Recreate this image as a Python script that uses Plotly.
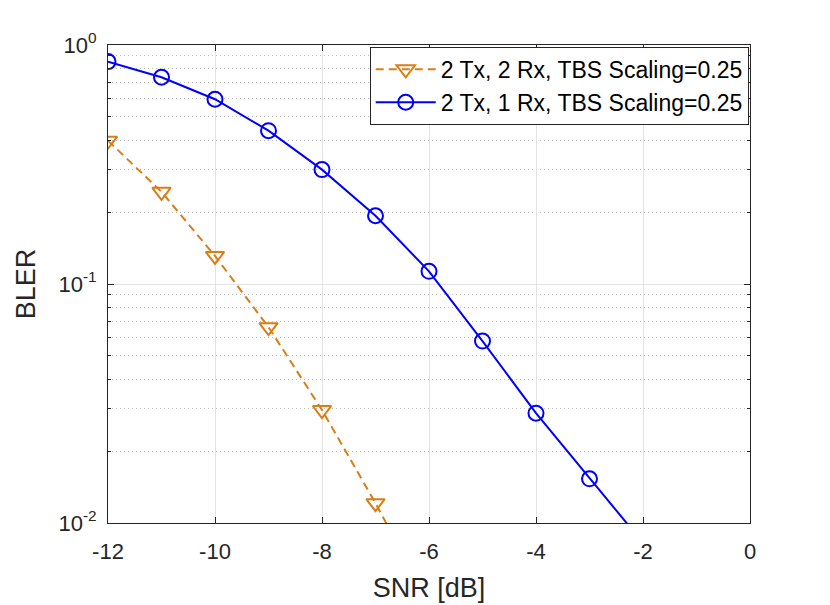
import plotly.graph_objects as go

# SNR points (dB)
snr = [-12, -11, -10, -9, -8, -7, -6, -5, -4, -3, -2]

# BLER curves
bler_2rx = [0.398, 0.243, 0.131, 0.066, 0.0297, 0.0121, 0.00465]
bler_1rx = [0.852, 0.733, 0.593, 0.438, 0.301, 0.193, 0.113, 0.0577, 0.0288, 0.0153, 0.00826]

ytick_vals = [1, 0.1, 0.01]
ytick_text = ["10<sup>0</sup>", "10<sup>-1</sup>", "10<sup>-2</sup>"]
xtick_vals = [-12, -10, -8, -6, -4, -2, 0]
xtick_text = ["-12", "-10", "-8", "-6", "-4", "-2", "0"]

font_name = "Liberation Sans, Arial, sans-serif"
text_col = "#262626"

fig = go.Figure()

fig.add_trace(go.Scatter(
    x=snr[:len(bler_2rx)], y=bler_2rx,
    name="2 Tx, 2 Rx, TBS Scaling=0.25",
    mode="lines+markers",
    line=dict(color="#D97D14", width=2, dash="8px,5px"),
    marker=dict(symbol="triangle-down-open", size=16, color="#D97D14",
                line=dict(width=2, color="#D97D14")),
))

fig.add_trace(go.Scatter(
    x=snr, y=bler_1rx,
    name="2 Tx, 1 Rx, TBS Scaling=0.25",
    mode="lines+markers",
    line=dict(color="#0000FF", width=2),
    marker=dict(symbol="circle-open", size=15, color="#0000FF",
                line=dict(width=2, color="#0000FF")),
))

# the page body adds an 8px offset, so margins are shifted by that amount
fig.update_layout(
    width=830, height=605,
    margin=dict(l=100, r=88, t=37, b=90),
    paper_bgcolor="white",
    plot_bgcolor="white",
    font=dict(family=font_name, size=22, color=text_col),
    showlegend=True,
    legend=dict(
        x=0.998, y=0.996, xanchor="right", yanchor="top",
        bgcolor="white", bordercolor="#262626", borderwidth=1,
        font=dict(size=23, color="black"),
        tracegroupgap=0, itemwidth=60,
    ),
)

fig.update_xaxes(
    range=[-12, 0],
    tickvals=xtick_vals, ticktext=xtick_text,
    ticks="inside", ticklen=6, tickcolor="#262626",
    showline=True, linecolor="#262626", linewidth=1, mirror="ticks",
    showgrid=True, gridcolor="#E3E3E3", gridwidth=1,
    zeroline=False,
    ticklabelstandoff=9,
    title=dict(text="SNR [dB]", font=dict(size=27, color=text_col), standoff=14),
    tickfont=dict(size=22, color=text_col),
)

fig.update_yaxes(
    type="log",
    range=[-2, 0],
    tickvals=ytick_vals, ticktext=ytick_text,
    ticks="inside", ticklen=6, tickcolor="#262626",
    showline=True, linecolor="#262626", linewidth=1, mirror="ticks",
    showgrid=True, gridcolor="#E3E3E3", gridwidth=1,
    minor=dict(dtick="D1", ticks="inside", ticklen=3, tickcolor="#262626",
               showgrid=True, gridcolor="#BDBDBD", griddash="1px,3px", gridwidth=1),
    zeroline=False,
    ticklabelstandoff=6,
    title=dict(text="BLER", font=dict(size=27, color=text_col), standoff=14),
    tickfont=dict(size=22, color=text_col),
)

fig.write_html("out.html")
